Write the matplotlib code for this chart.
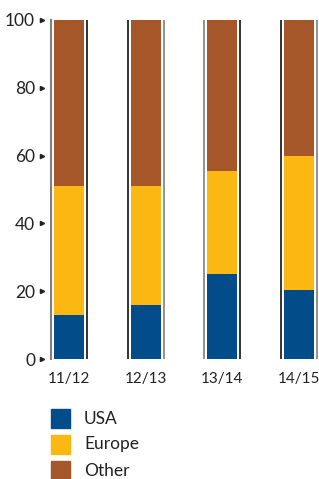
import matplotlib
matplotlib.use("Agg")
import matplotlib.pyplot as plt
from matplotlib.patches import Rectangle
import matplotlib.transforms as mtransforms

categories = ["11/12", "12/13", "13/14", "14/15"]
usa = [13, 16, 25, 20.5]
europe = [38, 35, 30.5, 39.5]
other = [49, 49, 44.5, 40]
series_names = ["USA", "Europe", "Other"]
colors = ["#014c89", "#fbb813", "#a5572a"]
yticks = [0, 20, 40, 60, 80, 100]

plt.rcParams['font.family'] = ['Lato', 'DejaVu Sans']

W, H = 319, 479
fig = plt.figure(figsize=(W/100, H/100), dpi=100)
ax = fig.add_axes([51/W, (H-359)/H, (W-51)/W, 339/H])

ppu = 76.7  # pixels per category unit
x = list(range(len(categories)))
bw = 30/ppu
bottoms = [0]*len(x)
for vals, c in zip([usa, europe, other], colors):
    ax.bar(x, vals, width=bw, bottom=bottoms, color=c, edgecolor='none', zorder=2)
    bottoms = [b+v for b, v in zip(bottoms, vals)]

off = 18/ppu
for i in x:
    lc, rc = ("#7f7f7f", "#111111") if i % 2 == 0 else ("#111111", "#7f7f7f")
    if i != 0:
        ax.plot([i-off, i-off], [0, 100], color=lc, lw=1.2, zorder=3)
    ax.plot([i+off, i+off], [0, 100], color=rc, lw=1.2, zorder=3)

ax.set_xlim(-off, (W-69)/ppu)
ax.set_ylim(0, 100)
for s in ['top', 'right', 'bottom']:
    ax.spines[s].set_visible(False)
ax.spines['left'].set_color('#7f7f7f')
ax.spines['left'].set_linewidth(1.5)

fs = 12.5
ax.set_yticks(yticks)
ax.set_yticklabels([str(t) for t in yticks], fontsize=fs, color='#222222')
ax.tick_params(axis='y', length=0, pad=11.5)
ax.set_xticks(x)
ax.set_xticklabels(categories, fontsize=11, color='#222222')
ax.tick_params(axis='x', length=0, pad=9.5)

trans = mtransforms.blended_transform_factory(ax.transAxes, ax.transData)
ax.plot([-9/(W-51)]*len(yticks), yticks, linestyle='none', marker='>', ms=3,
        color='#222222', transform=trans, clip_on=False)

for k, (name, c) in enumerate(zip(series_names, colors)):
    y0 = 409 + k*26
    fig.patches.append(Rectangle((51/W, (H-y0-19)/H), 19/W, 19/H, color=c,
                                 transform=fig.transFigure, figure=fig))
    fig.text(84/W, (H-y0-9.5)/H, name, fontsize=fs, color='#222222', va='center', ha='left')

fig.savefig("out.png", dpi=100)
